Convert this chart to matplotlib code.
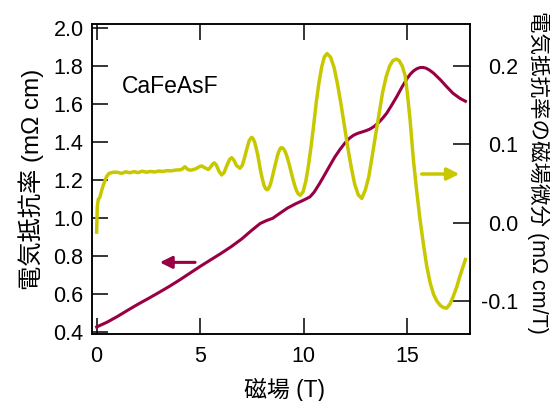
import matplotlib.pyplot as plt

plt.rcParams['axes.unicode_minus'] = False
plt.rcParams['font.family'] = ['Liberation Sans', 'DejaVu Sans']

# magnetic field (T) and resistivity (mOhm cm), left axis
field_r = [0.0, 0.5, 1.0, 1.5, 2.0, 2.5, 3.0, 3.5, 4.0, 4.5, 5.0, 5.5, 6.0,
           6.5, 7.0, 7.5, 7.9, 8.2, 8.5, 8.8, 9.2, 9.6, 10.0, 10.3, 10.5,
           10.75, 11.0, 11.25, 11.5, 11.75, 12.0, 12.2, 12.4, 12.6, 12.8,
           13.0, 13.2, 13.4, 13.6, 13.8, 14.0, 14.25, 14.5, 14.75, 15.0,
           15.15, 15.3, 15.45, 15.6, 15.75, 15.9, 16.05, 16.25, 16.45, 16.6,
           16.9, 17.2, 17.54, 17.8]
rho = [0.425, 0.45, 0.48, 0.513, 0.545, 0.575, 0.606, 0.638, 0.672, 0.708,
       0.744, 0.778, 0.812, 0.848, 0.888, 0.935, 0.97, 0.985, 0.997, 1.02,
       1.05, 1.073, 1.093, 1.11, 1.135, 1.178, 1.225, 1.273, 1.32, 1.36,
       1.395, 1.418, 1.434, 1.444, 1.451, 1.458, 1.467, 1.481, 1.50, 1.523,
       1.55, 1.594, 1.64, 1.69, 1.735, 1.757, 1.773, 1.784, 1.79, 1.791,
       1.787, 1.778, 1.762, 1.741, 1.725, 1.689, 1.655, 1.628, 1.613]

# field derivative of resistivity (mOhm cm/T), right axis
field_d = [0.0, 0.03, 0.08, 0.15, 0.25, 0.35, 0.48, 0.6, 0.8, 1.0, 1.2, 1.4,
           1.6, 1.8, 2.0, 2.2, 2.4, 2.6, 2.8, 3.0, 3.2, 3.4, 3.6, 3.8, 4.0,
           4.1, 4.26, 4.4, 4.55, 4.8, 4.95, 5.07, 5.2, 5.39, 5.5, 5.6, 5.68,
           5.78, 5.9, 6.03, 6.15, 6.3, 6.42, 6.52, 6.62, 6.75, 6.92,
           7.03, 7.14, 7.26, 7.37, 7.48,
           7.55, 7.63, 7.70, 7.78, 7.85, 7.92, 8.00, 8.07, 8.15, 8.22,
           8.29, 8.36, 8.43, 8.50, 8.58, 8.65, 8.72, 8.79, 8.86, 8.93,
           9.02, 9.11, 9.20, 9.29, 9.38, 9.47, 9.56, 9.65, 9.74, 9.83,
           9.96, 10.09, 10.22, 10.35, 10.48, 10.60, 10.73, 10.86, 10.99, 11.12,
           11.29, 11.46, 11.62, 11.79, 11.96, 12.13, 12.30, 12.46, 12.63, 12.8,
           12.97, 13.13, 13.30, 13.47, 13.64, 13.80, 13.97, 14.14, 14.30, 14.47,
           14.6, 14.75, 14.89, 15.0, 15.13, 15.29, 15.45, 15.61, 15.77, 15.93,
           16.1, 16.27, 16.42, 16.6, 16.75, 16.9, 17.05, 17.2, 17.38, 17.55,
           17.7, 17.8]
drho = [-0.012, 0.02, 0.030, 0.032, 0.042, 0.050, 0.059, 0.063, 0.0645,
        0.0645, 0.063, 0.065, 0.0638, 0.0652, 0.064, 0.0658, 0.0645, 0.0655,
        0.0648, 0.066, 0.0655, 0.0665, 0.0662, 0.0672, 0.0675, 0.068, 0.0715,
        0.068, 0.067, 0.069, 0.0715, 0.0725, 0.0705, 0.068, 0.071, 0.075,
        0.0765, 0.0735, 0.066, 0.061, 0.064, 0.074, 0.081, 0.083, 0.080,
        0.073, 0.0695,
        0.0733, 0.0831, 0.0954, 0.1052, 0.109,
        0.1074, 0.1026, 0.0952, 0.0859, 0.0755, 0.0652, 0.0558, 0.0484,
        0.0436, 0.042,
        0.0433, 0.0472, 0.0531, 0.0607, 0.069, 0.0773, 0.0849, 0.0908,
        0.0947, 0.096,
        0.0945, 0.0902, 0.0834, 0.0749, 0.0655, 0.0561, 0.0476, 0.0408,
        0.0365, 0.035,
        0.0394, 0.0523, 0.0723, 0.0975, 0.1255, 0.1535, 0.1787, 0.1987,
        0.2116, 0.216,
        0.2115, 0.1983, 0.1779, 0.1521, 0.1235, 0.0949, 0.0691, 0.0487,
        0.0355, 0.031,
        0.042, 0.058, 0.085, 0.113, 0.140, 0.166, 0.186, 0.200, 0.207, 0.209,
        0.207, 0.200, 0.188, 0.165, 0.131, 0.080, 0.040, 0.004, -0.027,
        -0.055,
        -0.077, -0.092, -0.100, -0.106, -0.1085, -0.109, -0.104, -0.095,
        -0.082, -0.067,
        -0.055, -0.047]

red = '#990044'
yellow = '#c8c800'
jp = ['Liberation Sans', 'Noto Sans CJK JP']

fig = plt.figure(figsize=(5.5, 4.01), dpi=100)
ax = fig.add_axes([0.1678, 0.1683, 0.6867, 0.7711])
ax2 = ax.twinx()

ax.plot(field_r, rho, color=red, lw=2.2)
ax2.plot(field_d, drho, color=yellow, lw=2.5)

ax.set_xlim(-0.21, 18.02)
ax.set_ylim(0.3905, 2.018)
ax2.set_ylim(-0.1415, 0.2534)

ax.set_xticks([0, 5, 10, 15])
ax.set_yticks([0.4, 0.6, 0.8, 1.0, 1.2, 1.4, 1.6, 1.8, 2.0])
ax.set_yticklabels(['%.1f' % v for v in ax.get_yticks()])
ax2.set_yticks([-0.1, 0.0, 0.1, 0.2])
ax2.set_yticklabels(['-0.1', '0.0', '0.1', '0.2'])

ax.tick_params(axis='x', direction='in', length=11.5, width=1.1,
               top=True, labelsize=15.5, pad=9)
ax.tick_params(axis='y', direction='in', length=11.5, width=1.1,
               right=False, labelsize=15.5, pad=6.3)
ax2.tick_params(axis='y', direction='in', length=12, width=1.1,
                labelsize=15.5, pad=35)
for t in ax2.yaxis.get_major_ticks():
    t.label2.set_horizontalalignment('right')

for a in (ax, ax2):
    for s in a.spines.values():
        s.set_linewidth(1.1)

ax.set_xlabel('磁場 (T)', fontsize=16.5, family=jp, va='top')
ax.xaxis.set_label_coords(0.508, -0.142)
ax.set_ylabel('電気抵抗率 (mΩ cm)', fontsize=17.5, family=jp)
ax.yaxis.set_label_coords(-0.128, 0.5)
ax2.set_ylabel('電気抵抗率の磁場微分 (mΩ cm/T)', fontsize=15.5, family=jp,
               rotation=270, va='bottom')
ax2.yaxis.set_label_coords(1.151, 0.52)

ax.text(1.2, 1.69, 'CaFeAsF', fontsize=16.5, va='center')

ax.annotate('', xy=(3.05, 0.765), xytext=(4.75, 0.765),
            arrowprops=dict(arrowstyle='-|>', color=red, lw=2.2,
                            mutation_scale=18, shrinkA=0, shrinkB=0))
ax2.annotate('', xy=(17.51, 0.0622), xytext=(15.69, 0.0622),
             arrowprops=dict(arrowstyle='-|>', color=yellow, lw=2.5,
                             mutation_scale=18, shrinkA=0, shrinkB=0))

fig.savefig('out.png', dpi=100)
